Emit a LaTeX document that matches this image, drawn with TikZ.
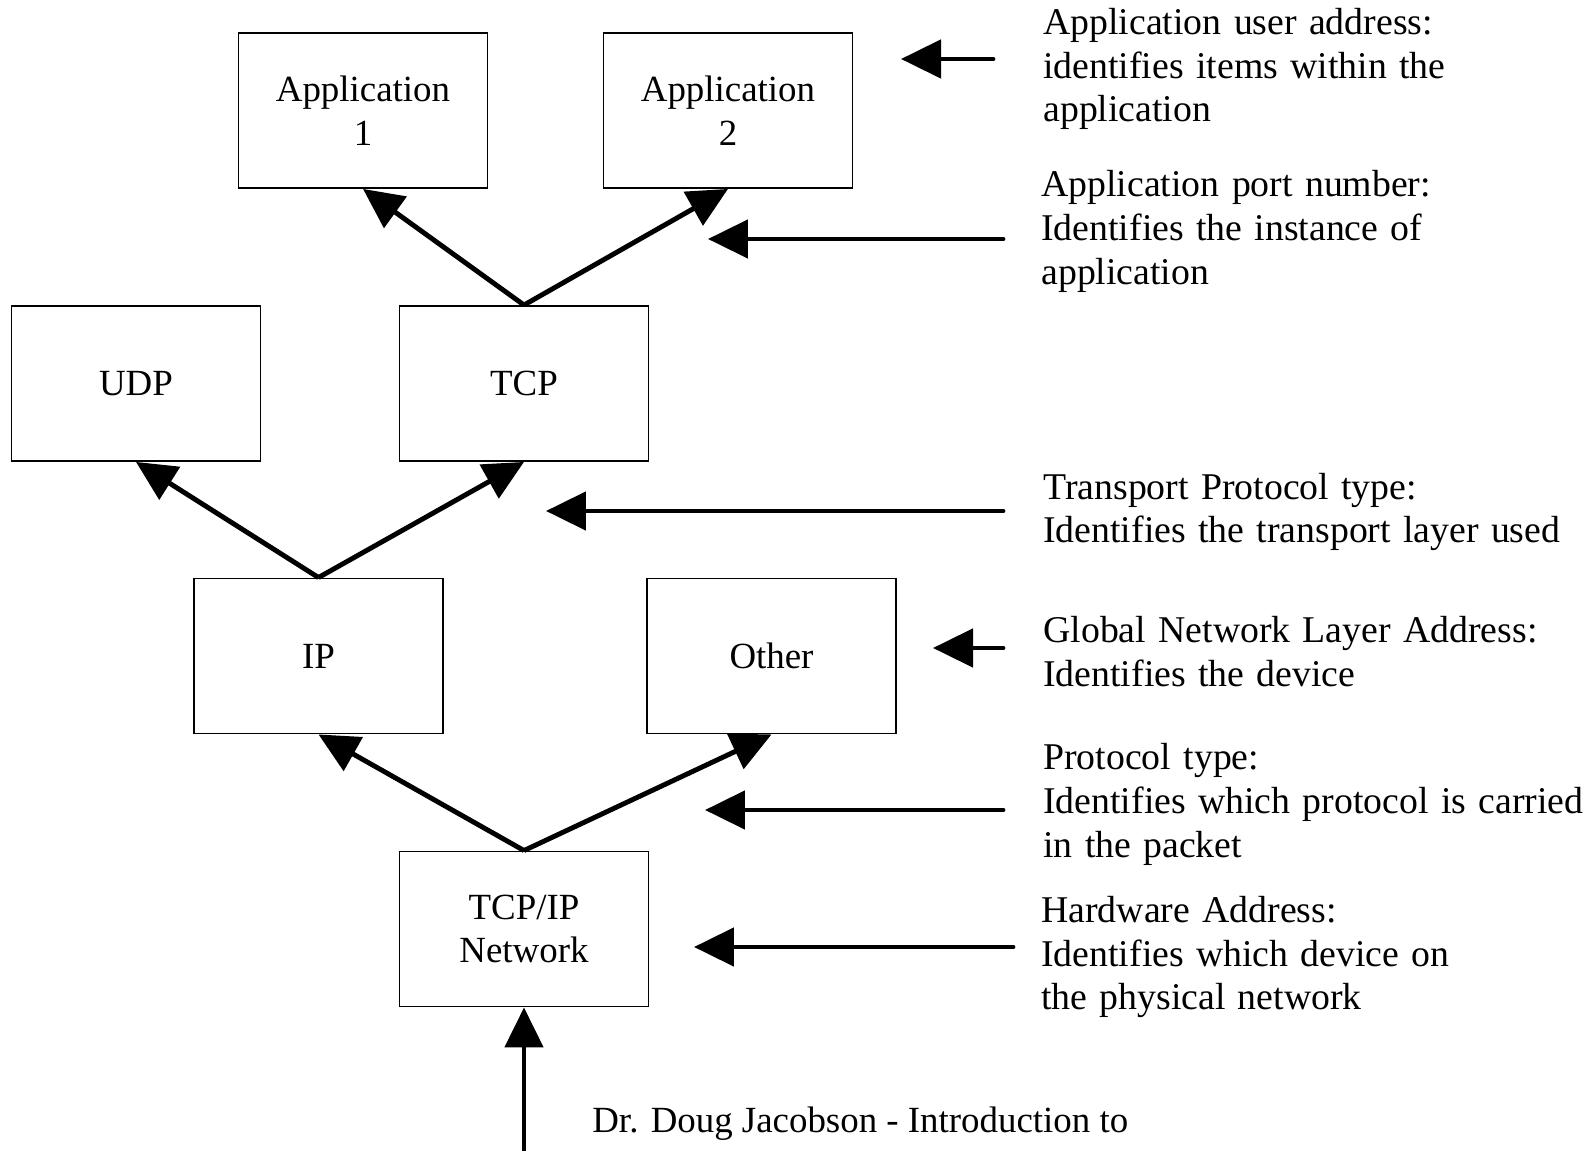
\documentclass[tikz,border=0pt]{standalone}
\usepackage{fontspec}
\setmainfont{Liberation Serif}[WordSpace=1.3]
\newfontfamily\creditfont{Liberation Serif}
\usetikzlibrary{arrows.meta}

\begin{document}
\begin{tikzpicture}[x=0.02cm, y=-0.02cm,
        font=\fontsize{21.5}{25}\selectfont,
        layer_style/.style={rectangle,draw=black,line width=1.1pt,minimum width=4.98cm,minimum height=3.1cm,align=center,inner sep=0pt,font=\fontsize{21}{25}\selectfont},
        link_style/.style={draw=black,line width=2.8pt,-{Triangle[length=0.8cm,width=0.76cm]}},
        pointer_style/.style={draw=black,line width=2.8pt,line cap=round,-{Triangle[length=0.8cm,width=0.76cm]}},
        note_style/.style={anchor=west,align=left,inner sep=0pt}]

        \useasboundingbox (0,0) rectangle (1593,1151);

        \node [layer_style](app1) at (363,110.5) {Application\\1};

        \node [layer_style](app2) at (728,110.5) {Application\\2};

        \node [layer_style](udp) at (136,383.5) {UDP};

        \node [layer_style](tcp) at (524,383.5) {TCP};

        \node [layer_style](ip) at (318.5,656) {IP};

        \node [layer_style](other) at (771.5,656) {Other};

        \node [layer_style](net) at (524,929) {TCP/IP\\Network};

        \coordinate (feed) at (524,1151);

        \draw [link_style] (tcp.north) -- (app1.south);

        \draw [link_style] (tcp.north) -- (app2.south);

        \draw [link_style] (ip.north) -- (udp.south);

        \draw [link_style] (ip.north) -- (tcp.south);

        \draw [link_style] (net.north) -- (ip.south);

        \draw [link_style] (net.north) -- (other.south);

        \draw [link_style] (feed) -- (net.south);

        % notes on the right
        \node [note_style](n1) at (1043,69) {Application user address:\\identifies items within the\\application};

        \node [note_style](n2) at (1041,231) {Application port number:\\Identifies the instance of\\application};

        \node [note_style](n3) at (1043,512) {Transport Protocol type:\\Identifies the transport layer used};

        \node [note_style](n4) at (1043,651.5) {Global Network Layer Address:\\Identifies the device};

        \node [note_style](n5) at (1043,804) {Protocol type:\\Identifies which protocol is carried\\in the packet};

        \node [note_style](n6) at (1041,957) {Hardware Address:\\Identifies which device on\\the physical network};

        \node [note_style,font=\creditfont\fontsize{21}{25}\selectfont](credit) at (592,1124) {Dr. Doug Jacobson - Introduction to};

        % pointers
        \coordinate (t1) at (993,59);
        \coordinate (h1) at (901,59);
        \coordinate (t2) at (1003,239);
        \coordinate (h2) at (708,239);
        \coordinate (t3) at (1003,511);
        \coordinate (h3) at (546,511);
        \coordinate (t4) at (1003,648);
        \coordinate (h4) at (933,648);
        \coordinate (t5) at (1003,810);
        \coordinate (h5) at (705,810);
        \coordinate (t6) at (1013,947);
        \coordinate (h6) at (694,947);

        \foreach \k in {1,...,6}
            \draw [pointer_style] (t\k) -- (h\k);

        \end{tikzpicture}
\end{document}
